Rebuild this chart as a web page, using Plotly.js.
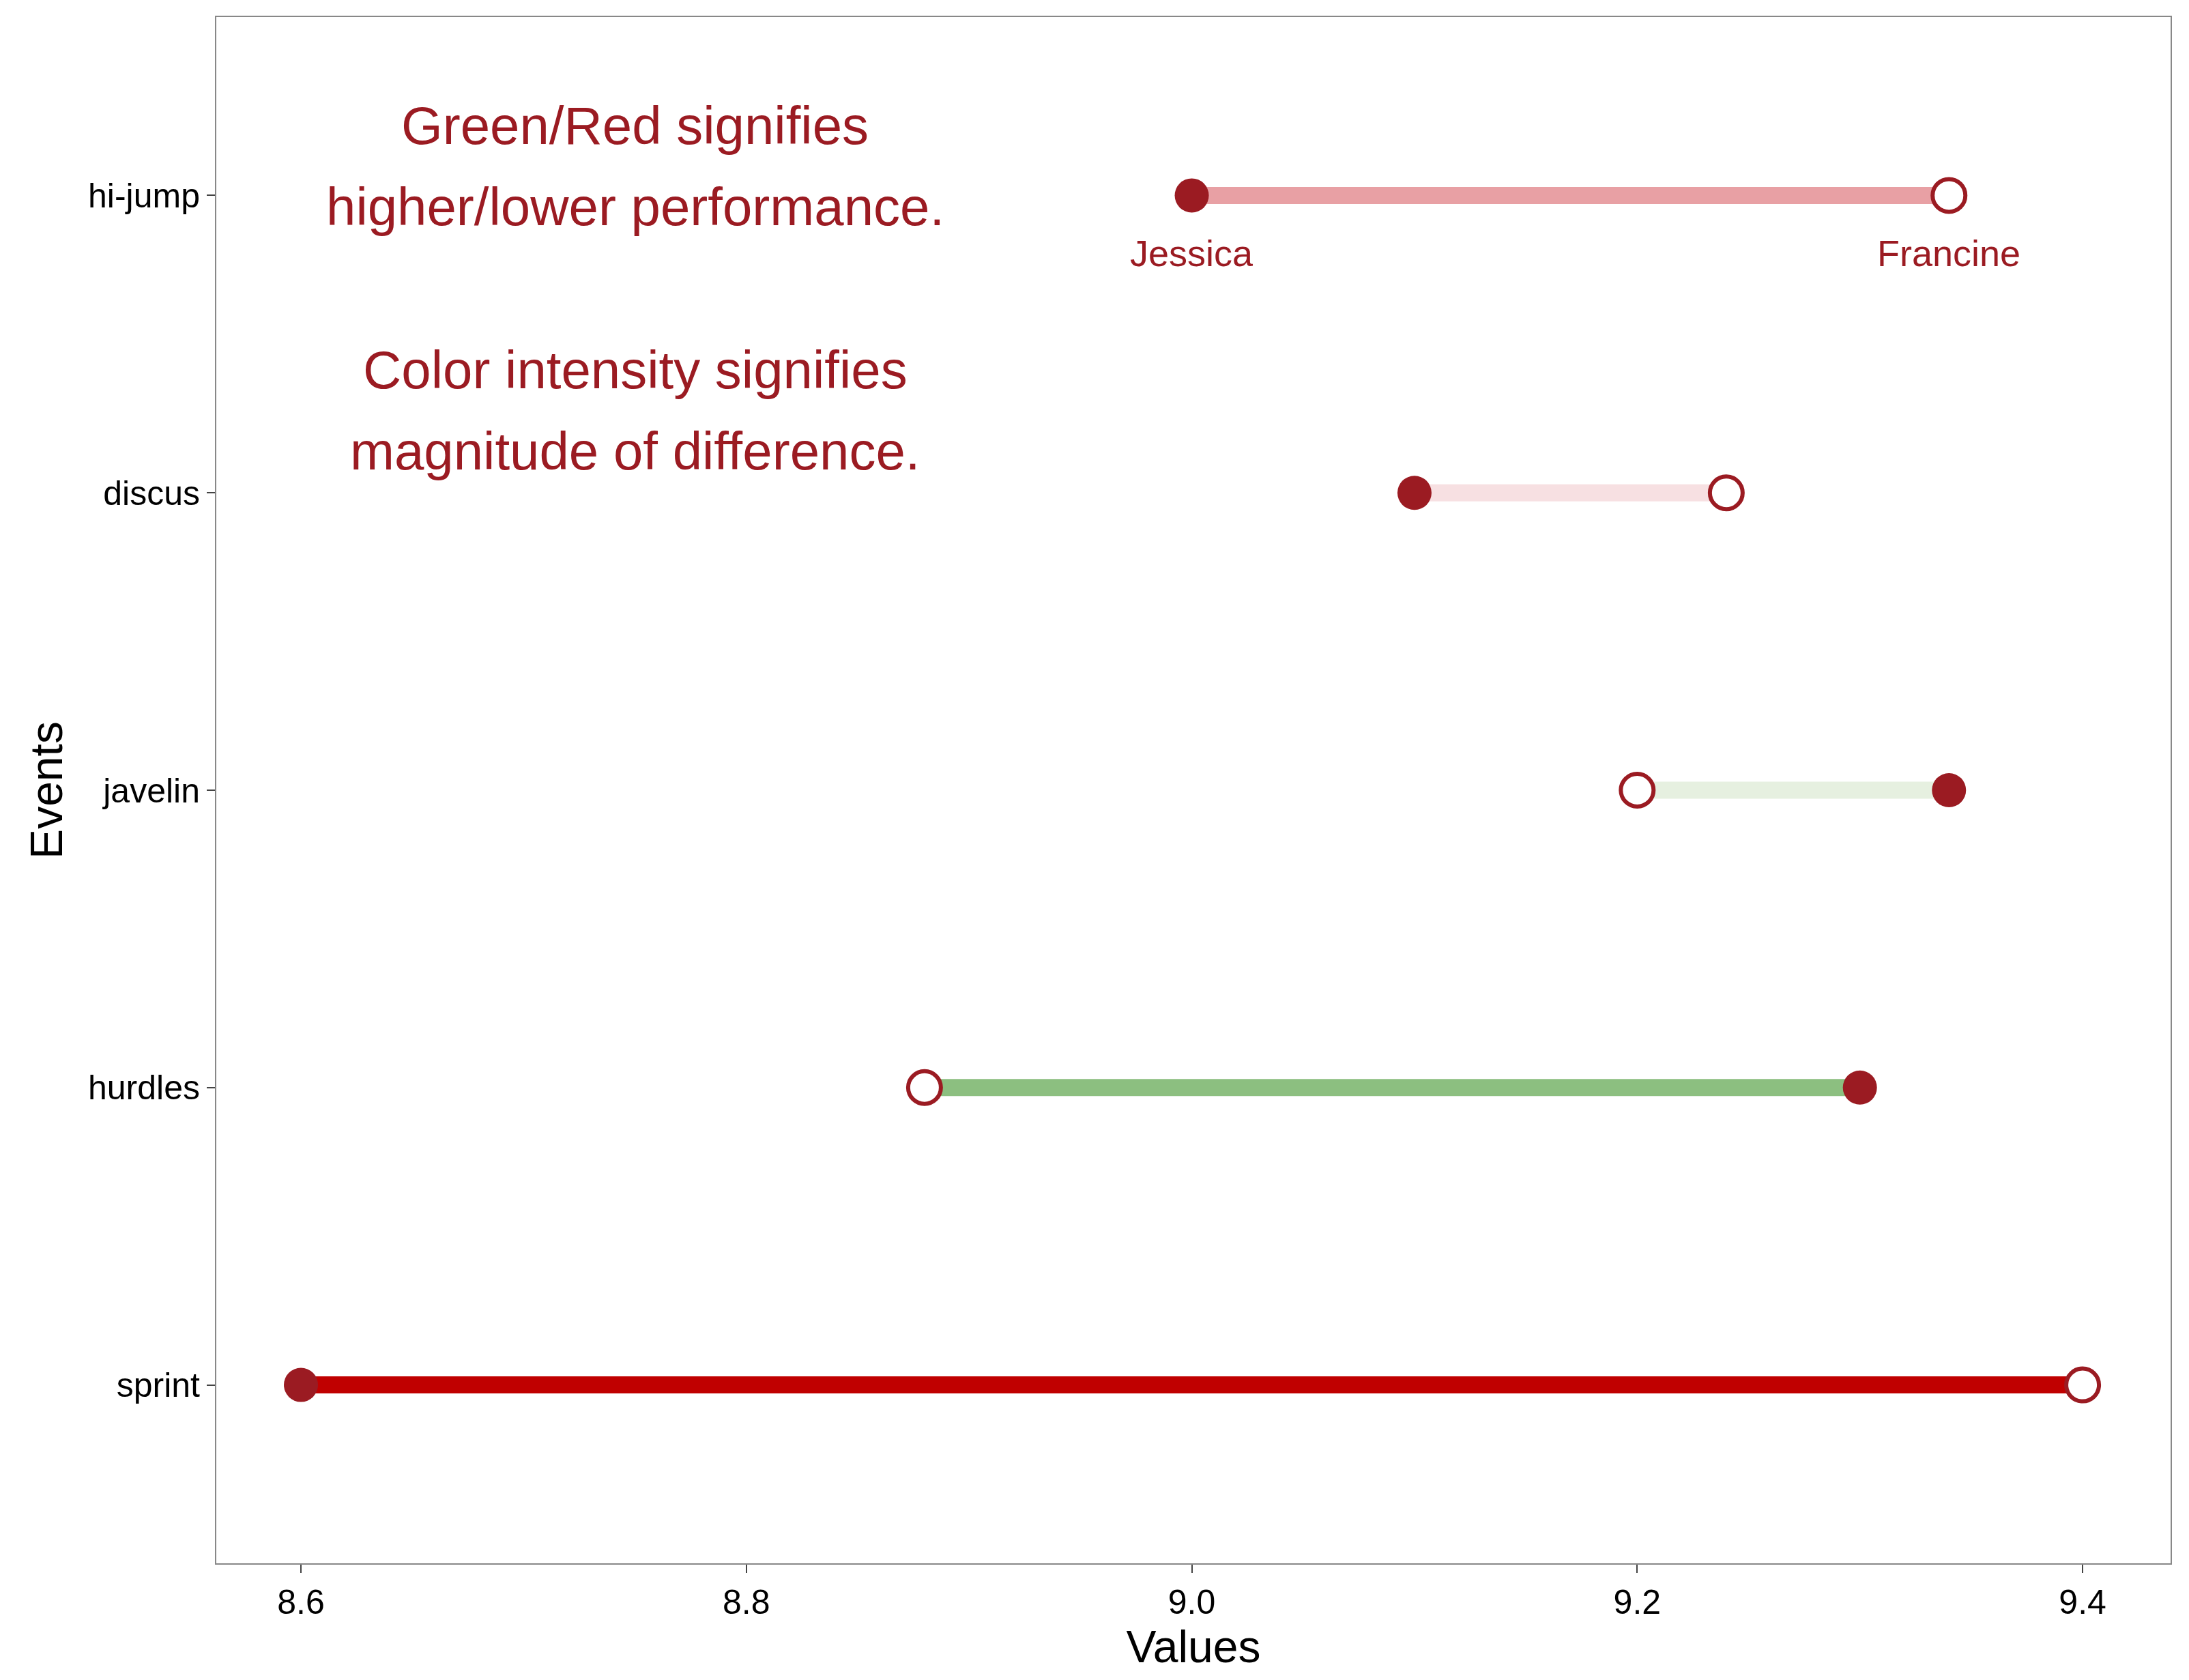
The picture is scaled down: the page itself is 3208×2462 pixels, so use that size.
<!DOCTYPE html>
<html>
<head>
<meta charset="utf-8">
<script src="https://cdn.plot.ly/plotly-3.0.1.min.js"></script>
<style>body{margin:0;background:#fff}#chart{width:3208px;height:2462px}</style>
</head>
<body>
<div id="chart"></div>
<script>
var events = ['sprint', 'hurdles', 'javelin', 'discus', 'hi-jump'];
var jessica = [8.6, 9.3, 9.34, 9.1, 9.0];
var francine = [9.4, 8.88, 9.2, 9.24, 9.34];
var segColors = ['#c00000', '#8cbf80', '#e6f0e0', '#f7e0e2', '#e8a0a4'];
var noteLines = ['Green/Red signifies', 'higher/lower performance.',
                 'Color intensity signifies', 'magnitude of difference.'];
var noteY = [4.235, 3.962, 3.413, 3.141];
var dark = '#9b1b22';

var data = [];
events.forEach(function (ev, i) {
  data.push({
    x: [jessica[i], francine[i]],
    y: [ev, ev],
    mode: 'lines',
    line: { color: segColors[i], width: 25 },
    showlegend: false,
    hoverinfo: 'skip'
  });
});
data.push({
  x: francine, y: events, mode: 'markers', name: 'Francine',
  marker: { size: 48, color: 'white', line: { color: dark, width: 6 } },
  showlegend: false
});
data.push({
  x: jessica, y: events, mode: 'markers', name: 'Jessica',
  marker: { size: 50, color: dark },
  showlegend: false
});

var note = { color: dark, size: 78, family: 'Liberation Sans, Arial, sans-serif' };
var annotations = noteLines.map(function (t, i) {
  return { x: 8.75, y: noteY[i], xref: 'x', yref: 'y', showarrow: false, text: t, font: note };
});
annotations.push(
  { x: jessica[4], y: 'hi-jump', yshift: -85, showarrow: false, text: 'Jessica',
    font: { color: dark, size: 54 } },
  { x: francine[4], y: 'hi-jump', yshift: -85, showarrow: false, text: 'Francine',
    font: { color: dark, size: 54 } }
);

var layout = {
  width: 3208, height: 2462,
  margin: { l: 317, r: 27, t: 25, b: 171 },
  paper_bgcolor: 'white', plot_bgcolor: 'white',
  font: { family: 'Liberation Sans, Arial, sans-serif', color: 'black' },
  xaxis: {
    range: [8.562, 9.4395], tickvals: [8.6, 8.8, 9.0, 9.2, 9.4],
    ticktext: ['8.6', '8.8', '9.0', '9.2', '9.4'],
    showgrid: false, zeroline: false, showline: true, mirror: true,
    linecolor: '#888', linewidth: 2, ticks: 'outside', ticklen: 12, tickwidth: 2,
    tickfont: { size: 50 },
    title: { text: 'Values', font: { size: 66 }, standoff: 8 }
  },
  yaxis: {
    type: 'category', categoryorder: 'array', categoryarray: events,
    range: [-0.6, 4.6],
    showgrid: false, zeroline: false, showline: true, mirror: true,
    linecolor: '#888', linewidth: 2, ticks: 'outside', ticklen: 12, tickwidth: 2,
    tickfont: { size: 50 },
    title: { text: 'Events', font: { size: 66 }, standoff: 16 }
  },
  annotations: annotations
};
Plotly.newPlot('chart', data, layout, { staticPlot: true });
</script>
</body>
</html>
